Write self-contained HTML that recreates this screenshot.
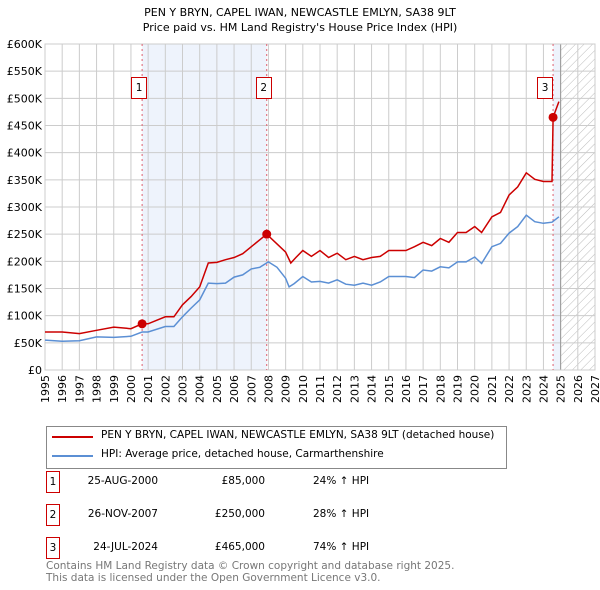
<!DOCTYPE html>
<html><head><meta charset="utf-8"><style>
body{margin:0;background:#fff;font-family:"DejaVu Sans","Liberation Sans",sans-serif;}
#wrap{position:relative;width:600px;height:590px;overflow:hidden;}
.t{position:absolute;font-size:10.5px;color:#000;white-space:nowrap;}
.box{position:absolute;width:14px;height:20px;border:1px solid #c00;background:#fff;font-size:10.5px;text-align:center;line-height:20px;}
</style></head><body><div id="wrap">
<svg id="chart" width="600" height="420" style="position:absolute;left:0;top:0;font-family:'DejaVu Sans','Liberation Sans',sans-serif">
<defs><pattern id="hatch" width="6" height="6" patternUnits="userSpaceOnUse" patternTransform="rotate(45)"><line x1="0" y1="0" x2="0" y2="6" stroke="#bbb" stroke-width="1"/></pattern></defs>
<text x="300" y="16" text-anchor="middle" font-size="11">PEN Y BRYN, CAPEL IWAN, NEWCASTLE EMLYN, SA38 9LT</text>
<text x="300" y="31" text-anchor="middle" font-size="11">Price paid vs. HM Land Registry's House Price Index (HPI)</text>
<g id="g"></g>
</svg>
<div style="position:absolute;left:46px;top:426px;width:459px;height:41px;border:1px solid #888;">
<div style="position:absolute;left:5px;top:9px;width:41px;height:2px;background:#c00"></div>
<div class="t" style="left:54px;top:2px;">PEN Y BRYN, CAPEL IWAN, NEWCASTLE EMLYN, SA38 9LT (detached house)</div>
<div style="position:absolute;left:5px;top:28px;width:41px;height:2px;background:#5b8fd4"></div>
<div class="t" style="left:54px;top:21px;">HPI: Average price, detached house, Carmarthenshire</div>
</div>
<div id="table"></div>
<div class="t" style="left:46px;top:560px;color:#777;">Contains HM Land Registry data © Crown copyright and database right 2025.</div>
<div class="t" style="left:46px;top:572px;color:#777;">This data is licensed under the Open Government Licence v3.0.</div>
</div>
<script>
const hpiYears=[1995,1996,1997,1998,1999,2000,2000.65,2001,2002,2002.5,2003,2003.5,2004,2004.5,2005,2005.5,2006,2006.5,2007,2007.5,2008,2008.5,2009,2009.2,2009.5,2010,2010.5,2011,2011.5,2012,2012.5,2013,2013.5,2014,2014.5,2015,2016,2016.5,2017,2017.5,2018,2018.5,2019,2019.5,2020,2020.4,2021,2021.5,2022,2022.5,2023,2023.5,2024,2024.5,2024.9];
const hpiValues=[55,53,54,61,60,62,70,70,80,80,98,114,129,160,159,160,171,175,186,189,199,189,169,153,159,172,162,163,160,166,158,156,160,156,162,172,172,170,184,182,190,188,199,199,208,196,227,233,252,264,285,273,270,272,282];
const ppYears=[1995,1996,1997,1998,1999,2000,2000.65,2001,2002,2002.5,2003,2003.5,2004,2004.5,2005,2005.5,2006,2006.5,2007,2007.9,2008.5,2009,2009.3,2009.6,2010,2010.5,2011,2011.5,2012,2012.5,2013,2013.5,2014,2014.5,2015,2016,2016.5,2017,2017.5,2018,2018.5,2019,2019.5,2020,2020.4,2021,2021.5,2022,2022.5,2023,2023.5,2024,2024.5,2024.56,2024.9];
const ppValues=[70,70,67,73,79,76,85,85,98,98,120,135,153,197,198,203,207,214,227,250,232,217,197,207,220,209,220,207,215,203,209,203,207,209,220,220,227,235,229,242,235,253,253,264,253,282,290,322,337,363,351,347,347,465,494];
const saleLabels=["1","2","3"];
const saleYears=[2000.65,2007.9,2024.56];
const saleValues=[85,250,465];
const saleDates=["25-AUG-2000","26-NOV-2007","24-JUL-2024"];
const salePrices=["£85,000","£250,000","£465,000"];
const saleHpi=["24% ↑ HPI","28% ↑ HPI","74% ↑ HPI"];
const yTicks=[0,50,100,150,200,250,300,350,400,450,500,550,600];
const xTicks=[1995,1996,1997,1998,1999,2000,2001,2002,2003,2004,2005,2006,2007,2008,2009,2010,2011,2012,2013,2014,2015,2016,2017,2018,2019,2020,2021,2022,2023,2024,2025,2026,2027];

const X0=45,X1=595,Y0=370,Y1=44;
const x=v=>X0+(v-1995)/(2027-1995)*(X1-X0);
const y=v=>Y0-v/600*(Y0-Y1);
const NS="http://www.w3.org/2000/svg";
const g=document.getElementById('g');
function mk(tag,attrs,name){const e=document.createElementNS(NS,tag);for(const k in attrs)e.setAttribute(k,attrs[k]);


g.appendChild(e);return e;}
mk('rect',{x:x(saleYears[0]),y:Y1,width:x(saleYears[1])-x(saleYears[0]),height:Y0-Y1,fill:'#eef3fc'},'shade-sale1-sale2');
mk('rect',{x:x(saleYears[2]),y:Y1,width:x(2025)-x(saleYears[2]),height:Y0-Y1,fill:'#eef3fc'},'shade-sale3');
mk('rect',{x:x(2025),y:Y1,width:X1-x(2025),height:Y0-Y1,fill:'url(#hatch)'},'future-hatch');
yTicks.forEach(t=>{mk('line',{x1:X0,x2:X1,y1:y(t),y2:y(t),stroke:'#ccc'},'y-gridline');
const tx=mk('text',{x:X0-3,y:y(t)+4,'text-anchor':'end','font-size':11},'y-tick-label');tx.textContent=t===0?'£0':'£'+t+'K';});
xTicks.forEach(t=>{mk('line',{x1:x(t),x2:x(t),y1:Y1,y2:Y0,stroke:'#ccc'},'x-gridline');
const tx=mk('text',{x:0,y:0,'text-anchor':'end','font-size':11,transform:`translate(${x(t)+4},${Y0+5}) rotate(-90)`},'x-tick-label');tx.textContent=t;});
mk('line',{x1:x(2025),x2:x(2025),y1:Y1,y2:Y0,stroke:'#999'},'today-line');
mk('rect',{x:X0,y:Y1,width:X1-X0,height:Y0-Y1,fill:'none',stroke:'#ccc'},'plot-border');
saleYears.forEach((s,i)=>mk('line',{x1:x(s),x2:x(s),y1:Y1,y2:Y0,stroke:'#e06070','stroke-dasharray':'2,3'},'sale-line-'+saleLabels[i]));
const path=(xs,vs)=>xs.map((v,i)=>(i?'L':'M')+x(v).toFixed(1)+','+y(vs[i]).toFixed(1)).join('');
mk('path',{d:path(hpiYears,hpiValues),fill:'none',stroke:'#5b8fd4','stroke-width':1.5},'hpi-line');
mk('path',{d:path(ppYears,ppValues),fill:'none',stroke:'#c00','stroke-width':1.5},'price-paid-line');
saleYears.forEach((s,i)=>mk('circle',{cx:x(s),cy:y(saleValues[i]),r:4.5,fill:'#c00'},'sale-marker-'+saleLabels[i]));
const wrap=document.getElementById('wrap');
saleYears.forEach((s,i)=>{const d=document.createElement('div');d.className='box';
d.style.left=(x(s)-11-(i==2?5:0))+'px';d.style.top='77px';d.textContent=saleLabels[i];


wrap.appendChild(d);});
const tb=document.getElementById('table');
saleLabels.forEach((l,i)=>{const top=482+i*33;
const b=document.createElement('div');b.className='box';b.style.left='46px';b.style.top=(top-11)+'px';b.style.width='12px';b.textContent=l;


tb.appendChild(b);
[[saleDates[i],158,'date'],[salePrices[i],265,'price'],[saleHpi[i],313,'hpi']].forEach(([txt,px,n])=>{const c=document.createElement('div');c.className='t';c.style.top=(top-7)+'px';
if(n==='hpi'){c.style.left=px+'px';}else{c.style.right=(600-px)+'px';}
c.textContent=txt;


tb.appendChild(c);});});
</script></body></html>
